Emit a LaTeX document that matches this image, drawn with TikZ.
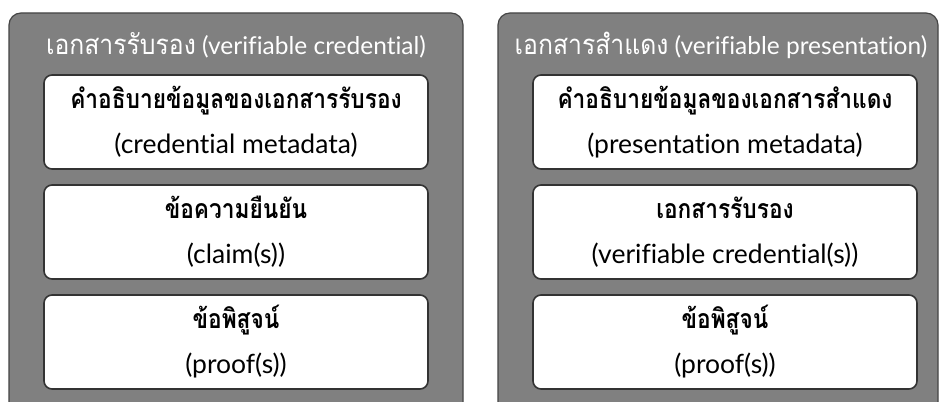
\documentclass[tikz,border=0pt]{standalone}
\usepackage{fontspec}
\setmainfont{Lato}[Ligatures=NoCommon]
\newfontfamily\thai[Script=Thai]{Loma}
\newfontfamily\thaibold[Script=Thai,FakeStretch=0.85]{Loma Bold}
\newfontfamily\thaititle[Script=Thai,FakeStretch=0.9]{Loma}
\definecolor{panelgray}{HTML}{808080}
\definecolor{paneledge}{HTML}{454545}
\definecolor{boxedge}{HTML}{333333}
\tikzset{
  panel/.style={draw=paneledge, line width=1.2pt, fill=panelgray, rounded corners=12pt},
  titletext/.style={text=white, font=\fontsize{24.5}{28}\selectfont, inner sep=0pt},
  infobox/.style={draw=boxedge, line width=1.6pt, fill=white, rounded corners=8pt,
    minimum width=384pt, minimum height=94pt, inner sep=0pt, align=center,
    font=\fontsize{26.5}{45}\selectfont, text=black},
}
\newcommand{\tb}[1]{{\thaibold\fontsize{26.7}{45}\selectfont #1}}
\newcommand{\ttl}[1]{{\thaititle\fontsize{27.5}{28}\selectfont #1}}
\begin{document}
\begin{tikzpicture}[x=1pt,y=-1pt]
\useasboundingbox (0,0) rectangle (941,401);
\clip (0,0) rectangle (941,401);
\fill[white] (0,0) rectangle (941,401);
% panels
\draw[panel] (9,13) rectangle (463,430);
\draw[panel] (498,13) rectangle (938,430);
\node[titletext] (t1) at (236,45) {\ttl{เอกสารรับรอง} (verifiable credential)};
\node[titletext] (t2) at (721,45) {\ttl{เอกสารสำแดง} (verifiable presentation)};
% left boxes
\node[infobox] (a1) at (236,122) {\tb{คำอธิบายข้อมูลของเอกสารรับรอง}\\(credential metadata)};
\node[infobox] (a2) at (236,232) {\tb{ข้อความยืนยัน}\\(claim(s))};
\node[infobox] (a3) at (236,342) {\tb{ข้อพิสูจน์}\\(proof(s))};
% right boxes
\node[infobox] (b1) at (725,122) {\tb{คำอธิบายข้อมูลของเอกสารสำแดง}\\(presentation metadata)};
\node[infobox] (b2) at (725,232) {\tb{เอกสารรับรอง}\\(verifiable credential(s))};
\node[infobox] (b3) at (725,342) {\tb{ข้อพิสูจน์}\\(proof(s))};
\end{tikzpicture}
\end{document}
